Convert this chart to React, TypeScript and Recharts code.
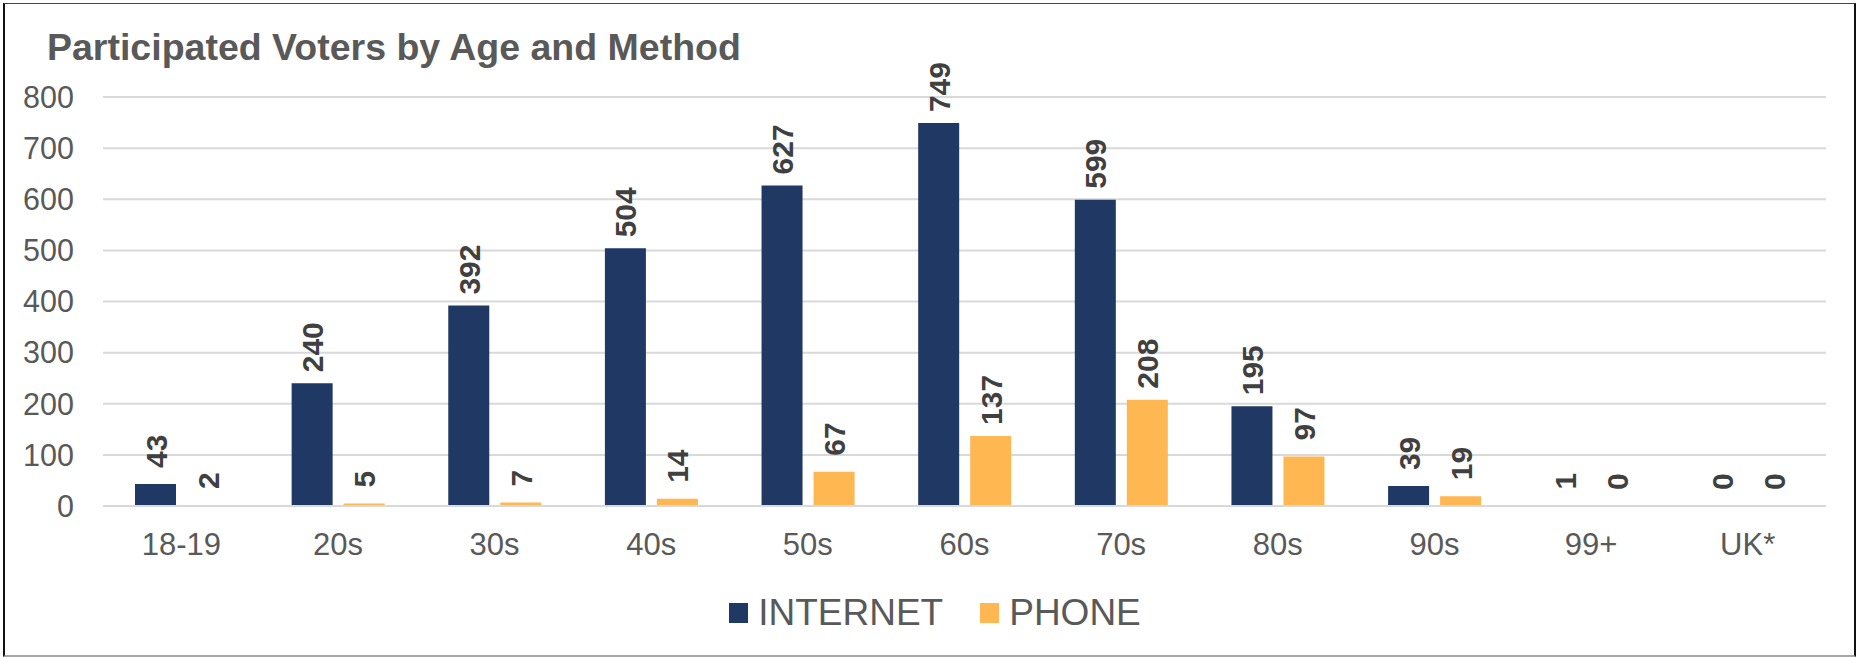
import React from "react";
import { BarChart, Bar, XAxis, YAxis, CartesianGrid, LabelList } from "recharts";

// Age bands shown along the category axis
const ageGroups = ["18-19", "20s", "30s", "40s", "50s", "60s", "70s", "80s", "90s", "99+", "UK*"];

// Voters who took part, split by voting method
const internetVoters = [43, 240, 392, 504, 627, 749, 599, 195, 39, 1, 0];
const phoneVoters = [2, 5, 7, 14, 67, 137, 208, 97, 19, 0, 0];

const yTicks = [0, 100, 200, 300, 400, 500, 600, 700, 800];

const series = [
  { key: "internet", name: "INTERNET", color: "#203864" },
  { key: "phone", name: "PHONE", color: "#FFB752" },
];

const chartData = ageGroups.map((age, i) => ({
  age,
  internet: internetVoters[i],
  phone: phoneVoters[i],
}));

const FONT = "'Liberation Sans', Arial, sans-serif";
const W = 1857;
const H = 657;

// Rotated value label sitting just above the top of each bar
const ValueLabel = (props: any) => {
  const { x, y, width, value } = props;
  const cx = Number(x) + Number(width) / 2;
  const gap = String(value).length > 2 ? 11 : 16;
  const tx = cx + 11;
  const ty = Number(y) - gap;
  return (
    <text
      transform={`translate(${tx},${ty}) rotate(-90)`}
      textAnchor="start"
      fontFamily={FONT}
      fontWeight="bold"
      fontSize={30}
      fill="#404040"
    >
      {value}
    </text>
  );
};

// keep zero-valued entries in the layout so their "0" labels are still drawn
const keepZero = (v: any) => (Number(v) === 0 ? 0.001 : 0);

export default function App() {
  return (
    <div style={{ position: "absolute", left: 0, top: 0, width: W, height: H, background: "#fff", fontFamily: FONT }}>
      <div
        style={{
          position: "absolute",
          left: 3,
          top: 3,
          width: 1853,
          height: 654,
          boxSizing: "border-box",
          borderLeft: "2px solid #111",
          borderRight: "2px solid #111",
          borderTop: "1px solid #444",
          borderBottom: "2px solid #A6A6A6",
        }}
      />
      <div
        style={{
          position: "absolute",
          left: 47,
          top: 29,
          fontSize: 37.5,
          lineHeight: "37px",
          fontWeight: "bold",
          color: "#595959",
          whiteSpace: "nowrap",
        }}
      >
        Participated Voters by Age and Method
      </div>
      <div style={{ position: "absolute", left: 0, top: 0 }}>
        <BarChart
          width={W}
          height={H}
          data={chartData}
          margin={{ top: 97, right: 31, bottom: 0, left: 0 }}
          barSize={41}
          barGap={11}
        >
          <CartesianGrid vertical={false} stroke="#D9D9D9" strokeWidth={2} />
          <XAxis
            dataKey="age"
            height={151}
            axisLine={{ stroke: "#D9D9D9", strokeWidth: 2 }}
            tickLine={false}
            tickSize={0}
            tickMargin={27}
            tick={{ fill: "#595959", fontSize: 31, fontFamily: FONT }}
            interval={0}
          />
          <YAxis
            width={103}
            domain={[0, 800]}
            ticks={yTicks}
            axisLine={false}
            tickLine={false}
            tickSize={0}
            tickMargin={29}
            tick={{ fill: "#595959", fontSize: 30.5, fontFamily: FONT }}
            interval={0}
          />
          {series.map((s) => (
            <Bar
              key={s.key}
              dataKey={s.key}
              name={s.name}
              fill={s.color}
              minPointSize={keepZero}
              isAnimationActive={false}
            >
              <LabelList dataKey={s.key} content={ValueLabel} />
            </Bar>
          ))}
        </BarChart>
      </div>
      <div
        style={{
          position: "absolute",
          left: 0,
          top: 594,
          width: 1870,
          display: "flex",
          justifyContent: "center",
          alignItems: "center",
          gap: 37,
          fontSize: 37,
          lineHeight: "37px",
          color: "#595959",
        }}
      >
        {series.map((s) => (
          <div key={s.key} style={{ display: "flex", alignItems: "center" }}>
            <span style={{ display: "inline-block", width: 19, height: 20, background: s.color, marginRight: 10 }} />
            <span>{s.name}</span>
          </div>
        ))}
      </div>
    </div>
  );
}
